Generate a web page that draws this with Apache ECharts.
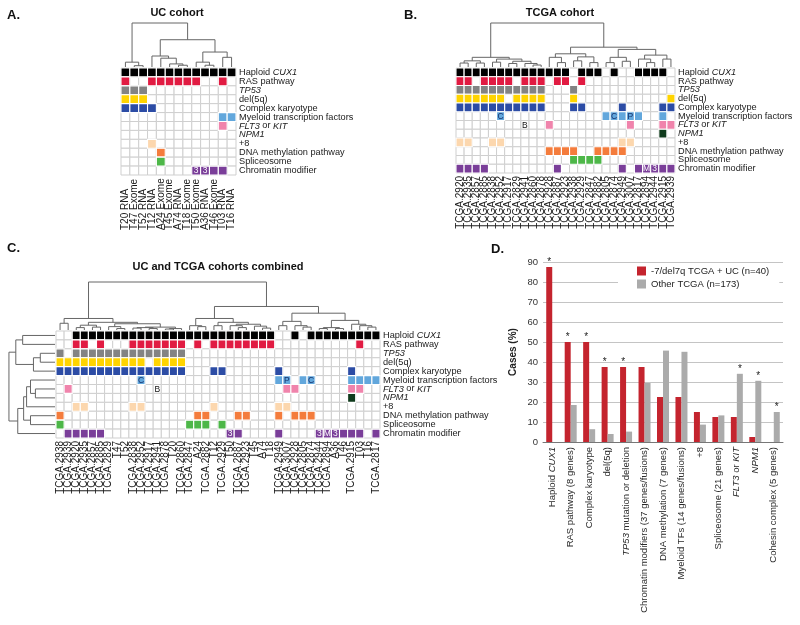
<!DOCTYPE html>
<html><head><meta charset="utf-8">
<script src="https://cdn.jsdelivr.net/npm/echarts@6/dist/echarts.min.js"></script>
<style>html,body{margin:0;padding:0;background:#fff}#c{width:800px;height:625px}</style>
</head><body><div id="c"></div>
<script>
// ---------------- DATA ----------------
const features = ['Haploid CUX1','RAS pathway','TP53','del(5q)','Complex karyotype','Myeloid transcription factors','FLT3 or KIT','NPM1','+8','DNA methylation pathway','Spliceosome','Chromatin modifier'];

// combined (panel C) column order
const combinedSamples = ['TCGA.2938','TCGA.2939','TCGA.2920','TCGA.2935','TCGA.2857','TCGA.2885','TCGA.2829','T47','T52','TCGA.2838',
 'TCGA.2952','TCGA.2917','TCGA.2941','TCGA.2878','T20','TCGA.2860','TCGA.2847','A24','TCGA.2882','T12',
 'TCGA.2929','T50','TCGA.2887','TCGA.2923','T45','A74','T18','TCGA.2949','TCGA.3007','TCGA.2928',
 'TCGA.2805','TCGA.2874','TCGA.2944','TCGA.2894','A36','T46','TCGA.2915','T03','T16','TCGA.2817'];

// one 0/1 row per feature, in combinedSamples order
const hapCUX1      = [0,0,1,1,1,1,1,1,1,1, 1,1,1,1,1,1,1,1,1,1, 1,1,1,1,1,1,1,0,0,1, 0,1,1,1,1,1,1,1,1,1];
const rasPathway   = [0,0,1,1,0,1,0,0,0,1, 1,1,1,1,1,1,0,1,0,1, 1,1,1,1,1,1,1,0,0,0, 0,0,0,0,0,0,0,1,0,0];
const tp53         = [1,0,1,1,1,1,1,1,1,1, 1,1,1,1,1,1,0,0,0,0, 0,0,0,0,0,0,0,0,0,0, 0,0,0,0,0,0,0,0,0,0];
const del5q        = [1,1,1,1,1,1,1,1,1,1, 1,0,1,1,1,1,0,0,0,0, 0,0,0,0,0,0,0,0,0,0, 0,0,0,0,0,0,0,0,0,0];
const complexKaryo = [1,1,1,1,1,1,1,1,1,1, 1,1,1,1,1,1,0,0,0,1, 1,0,0,0,0,0,0,1,0,0, 0,0,0,0,0,0,1,0,0,0];
const myeloidTF    = [0,0,0,0,0,0,0,0,0,0, 1,0,0,0,0,0,0,0,0,0, 0,0,0,0,0,0,0,1,1,0, 1,1,0,0,0,0,1,1,1,1];
const flt3Kit      = [0,1,0,0,0,0,0,0,0,0, 0,0,0,0,0,0,0,0,0,0, 0,0,0,0,0,0,0,0,1,1, 0,0,0,0,0,0,1,1,0,0];
const npm1         = [0,0,0,0,0,0,0,0,0,0, 0,0,0,0,0,0,0,0,0,0, 0,0,0,0,0,0,0,0,0,0, 0,0,0,0,0,0,1,0,0,0];
const trisomy8     = [0,0,1,1,0,0,0,0,0,1, 1,0,0,0,0,0,0,0,0,1, 0,0,0,0,0,0,0,1,1,0, 0,0,0,0,0,0,0,0,0,0];
const dnaMeth      = [1,0,0,0,0,0,0,0,0,0, 0,0,0,0,0,0,0,1,1,0, 0,0,1,1,0,0,0,1,0,1, 1,1,0,0,0,0,0,0,0,0];
const spliceosome  = [1,0,0,0,0,0,0,0,0,0, 0,0,0,0,0,0,1,1,1,0, 1,0,0,0,0,0,0,0,0,0, 0,0,0,0,0,0,0,0,0,0];
const chromatinMod = [0,1,1,1,1,1,0,0,0,0, 0,0,0,0,0,0,0,0,0,0, 0,1,1,0,0,0,0,1,0,0, 0,0,1,1,1,1,1,1,0,1];
const featureRows = [hapCUX1,rasPathway,tp53,del5q,complexKaryo,myeloidTF,flt3Kit,npm1,trisomy8,dnaMeth,spliceosome,chromatinMod];

// letters written in cells: [sample, feature row, text]
const cellNotes = [['TCGA.2952',5,'C'],['TCGA.2874',5,'C'],['TCGA.3007',5,'P'],['TCGA.2941',6,'B'],
 ['T50',11,'3'],['A36',11,'3'],['TCGA.2944',11,'3'],['TCGA.2894',11,'M']];

const ucOrder = ['T20','T47','T52','T12','A24','T45','A74','T18','T50','A36','T46','T03','T16'];
const ucPlatform = ['RNA','Exome','RNA','RNA','Exome','Exome','RNA','Exome','Exome','RNA','Exome','RNA','RNA'];
const tcgaOrder = ['TCGA.2920','TCGA.2935','TCGA.2857','TCGA.2885','TCGA.2838','TCGA.2952','TCGA.2917','TCGA.2829','TCGA.2941',
 'TCGA.2860','TCGA.2878','TCGA.2928','TCGA.2887','TCGA.2923','TCGA.2938','TCGA.2929','TCGA.2847','TCGA.2882',
 'TCGA.2805','TCGA.2874','TCGA.2949','TCGA.3007','TCGA.2817','TCGA.2894','TCGA.2944','TCGA.2915','TCGA.2939'];

// dendrogram merges: [left, right, height]; strings are leaves, numbers refer to earlier merges
const ucTree = [['T47','T52',0.3],['T20',0,1.1],['A74','T18',0.4],['T45',2,0.7],['A24',3,2.0],['T12',4,2.5],
 ['A36','T46',0.4],['T50',6,1.1],['T03','T16',2.2],[7,8,3.4],[5,9,6.2],[1,10,10]];
const tcgaTree = [['TCGA.2920','TCGA.2935',0.9],['TCGA.2857','TCGA.2885',0.9],[0,1,1.4],['TCGA.2838','TCGA.2952',1.1],
 ['TCGA.2917','TCGA.2829',0.8],['TCGA.2860','TCGA.2878',0.45],['TCGA.2941',5,0.8],[4,6,1.3],[3,7,1.8],[2,8,2.2],
 ['TCGA.2887','TCGA.2923',1.0],['TCGA.2928',10,2.2],['TCGA.2938','TCGA.2929',1.4],['TCGA.2847','TCGA.2882',1.0],
 [12,13,2.3],[11,14,3.0],['TCGA.2805','TCGA.2874',1.0],['TCGA.2949','TCGA.3007',1.3],[16,17,2.2],
 ['TCGA.2894','TCGA.2944',1.0],['TCGA.2817',19,1.8],['TCGA.2915','TCGA.2939',1.8],[20,21,2.7],[18,22,4.0],[15,23,4.5],[9,24,10]];
const combinedTree = [['TCGA.2920','TCGA.2935',0.5],['TCGA.2857','TCGA.2885',0.6],[0,1,1.0],['T47','T52',0.3],
 ['TCGA.2829',3,0.7],['TCGA.2838','TCGA.2952',0.4],['TCGA.2917','TCGA.2941',0.3],[5,6,0.5],['TCGA.2878','T20',0.2],
 [8,'TCGA.2860',0.3],[7,9,0.6],[4,10,1.3],[2,11,1.6],['TCGA.2938','TCGA.2939',1.4],[13,12,2.4],
 ['A24','TCGA.2882',0.7],['TCGA.2847',15,0.9],['T12','TCGA.2929',0.9],['TCGA.2887','TCGA.2923',0.5],['T50',18,0.9],
 ['A74','T18',0.4],['T45',20,0.8],[19,21,1.2],[17,22,1.6],[16,23,2.4],['TCGA.2949','TCGA.3007',0.9],
 ['TCGA.2805','TCGA.2874',0.6],['TCGA.2928',26,0.9],[25,27,1.8],['TCGA.2944','TCGA.2894',0.3],['A36','T46',0.3],
 [29,30,0.5],['T16','TCGA.2817',0.6],['T03',32,0.9],['TCGA.2915',33,1.2],[31,34,2.0],[28,35,3.5],[24,36,4.9],[14,37,10]];
const featureTree = [['TP53','del(5q)',15],[0,'Complex karyotype',22],['Haploid CUX1','RAS pathway',33],[2,1,40],
 ['FLT3 or KIT','NPM1',20],['Myeloid transcription factors',4,25],[5,'+8',29],['DNA methylation pathway','Spliceosome',25],
 [6,7,32],[8,'Chromatin modifier',38],[3,9,47]];

// panel D
const barCats = ['Haploid CUX1','RAS pathway (8 genes)','Complex karyotype','del(5q)','TP53 mutation or deletion',
 'Chromatin modifiers (37 genes/fusions)','DNA methylation (7 genes)','Myeloid TFs (14 genes/fusions)','+8',
 'Spliceosome (21 genes)','FLT3 or KIT','NPM1','Cohesin complex (5 genes)'];
const del7Values  = [87.5,50,50,37.5,37.5,37.5,22.5,22.5,15,12.5,12.5,2.5,0];
const otherValues = [0,18.5,6.4,4.0,5.2,29.5,45.7,45.1,8.7,13.3,34.1,30.6,15.0];
const del7Stars   = [1,1,1,1,1,0,0,0,0,0,0,0,0];
const otherStars  = [0,0,0,0,0,0,0,0,0,0,1,1,1];
const seriesNames = ['-7/del7q TCGA + UC (n=40)','Other TCGA (n=173)'];
const yTicks = {min:0, max:90, interval:10};

// ---------------- STYLE ----------------
const FONT = "'Liberation Sans', Arial, Helvetica, sans-serif";
const featureColors = ['#000000','#E11B42','#838383','#FFD400','#2C4CA5','#62A7DC','#F084AC','#0F3A1C','#FCD7AE','#F47C3C','#4DB748','#7A3E99'];
const TXT = '#1a1a1a';
const italicRe = /\b(CUX1|TP53|FLT3|KIT|NPM1)\b/g;
const ital = s => s.replace(italicRe, '{i|$1}');

const sampleIdx = {}; combinedSamples.forEach((s,i)=>sampleIdx[s]=i);

function cells(order){ const out=[]; order.forEach((s,ci)=>featureRows.forEach((row,ri)=>out.push([ci,ri,row[sampleIdx[s]]]))); return out; }
function notes(order){ return cellNotes.filter(n=>order.indexOf(n[0])>=0).map(n=>[order.indexOf(n[0]),n[1],n[2]]); }
function segments(tree, order){
  const pos={}; order.forEach((n,i)=>pos[n]=i);
  const nodes=[], segs=[];
  tree.forEach(([a,b,h])=>{
    const ca = typeof a==='number'?nodes[a]:{x:pos[a],h:0};
    const cb = typeof b==='number'?nodes[b]:{x:pos[b],h:0};
    nodes.push({x:(ca.x+cb.x)/2,h});
    segs.push([ca.x,ca.h,cb.x,cb.h,h]);
  });
  return segs;
}

const grids = [
 {left:121, top:68, width:115, height:107},  //0 A heat
 {left:121, top:23, width:115, height:44},   //1 A dendro
 {left:456, top:68, width:219, height:105},  //2 B heat
 {left:456, top:23, width:219, height:44},   //3 B dendro
 {left:56,  top:331, width:324, height:107}, //4 C heat
 {left:56,  top:282, width:324, height:48},  //5 C top dendro
 {left:6,   top:331, width:49,  height:107}, //6 C row dendro
 {left:543, top:262, width:240, height:180}  //7 D bars
].map(g=>Object.assign({containLabel:false, outerBoundsMode:'none'}, g));

const hiddenAxis = (gi, min, max, inverse)=>({type:'value', gridIndex:gi, min, max, inverse:!!inverse, show:false});
const heatX = (gi, data, rich)=>({type:'category', gridIndex:gi, data, axisLine:{show:false}, axisTick:{show:false}, splitLine:{show:false},
  axisLabel:{interval:0, rotate:90, margin:3, fontSize:10, fontFamily:FONT, color:TXT,
    formatter: rich? (v=>'{a|'+v+'}') : undefined,
    rich: rich? {a:{width:52, align:'left', fontSize:10, fontFamily:FONT, color:TXT}} : undefined}});
const heatY = gi=>({type:'category', gridIndex:gi, data:features, inverse:true, position:'right',
  axisLine:{show:false}, axisTick:{show:false}, splitLine:{show:false},
  axisLabel:{interval:0, margin:3, fontSize:9.2, fontFamily:FONT, color:TXT, formatter:ital,
    rich:{i:{fontStyle:'italic', fontSize:9.2, fontFamily:FONT, color:TXT}}}});

const xAxis = [
  heatX(0, ucOrder.map((s,i)=>s+' '+ucPlatform[i]), true),
  hiddenAxis(1,-0.5,ucOrder.length-0.5),
  heatX(2, tcgaOrder),
  hiddenAxis(3,-0.5,tcgaOrder.length-0.5),
  heatX(4, combinedSamples),
  hiddenAxis(5,-0.5,combinedSamples.length-0.5),
  hiddenAxis(6,0,50,true),
  {type:'category', gridIndex:7, data:barCats, axisLine:{lineStyle:{color:'#777', width:1}}, axisTick:{show:false},
   axisLabel:{interval:0, rotate:90, margin:5, fontSize:9.5, fontFamily:FONT, color:'#2a2a2a', formatter:ital,
     rich:{i:{fontStyle:'italic', fontSize:9.5, fontFamily:FONT, color:'#2a2a2a'}}}}
];
const yAxis = [
  heatY(0), hiddenAxis(1,0,10),
  heatY(2), hiddenAxis(3,0,10),
  heatY(4), hiddenAxis(5,0,10),
  hiddenAxis(6,-0.5,features.length-0.5,true),
  {type:'value', gridIndex:7, min:yTicks.min, max:yTicks.max, interval:yTicks.interval,
   axisLine:{show:false}, axisTick:{show:false},
   splitLine:{lineStyle:{color:'#c4c4c4', width:1}},
   axisLabel:{margin:5, fontSize:9.5, fontFamily:FONT, color:'#333'},
   name:'Cases (%)', nameLocation:'middle', nameGap:25, nameRotate:90,
   nameTextStyle:{fontSize:10, fontWeight:'bold', fontFamily:FONT, color:'#222'}}
];

function heatSeries(ai, order){
  const all = cells(order);
  const filled = all.filter(c=>c[2]===1);
  const nts = notes(order);
  return [
    {type:'custom', xAxisIndex:ai, yAxisIndex:ai, data:all.map(c=>[c[0],c[1]]), silent:true, z:2,
     renderItem:(p,api)=>{const c=api.coord([api.value(0),api.value(1)]); const s=api.size([1,1]);
       return {type:'rect', shape:{x:c[0]-s[0]/2, y:c[1]-s[1]/2, width:s[0], height:s[1]}, style:{fill:'#fff', stroke:'#cfcfcf', lineWidth:1}};}},
    {type:'custom', xAxisIndex:ai, yAxisIndex:ai, data:filled.map(c=>[c[0],c[1]]), silent:true, z:3,
     renderItem:(p,api)=>{const c=api.coord([api.value(0),api.value(1)]); const s=api.size([1,1]);
       return {type:'rect', shape:{x:c[0]-s[0]/2, y:c[1]-s[1]/2, width:s[0], height:s[1]}, style:{fill:featureColors[api.value(1)], stroke:'#fff', lineWidth:1.1}};}},
    {type:'custom', xAxisIndex:ai, yAxisIndex:ai, data:nts.map(n=>[n[0],n[1]]), silent:true, z:4,
     renderItem:(p,api)=>{const c=api.coord([api.value(0),api.value(1)]); const t=nts[p.dataIndex][2];
       const row=api.value(1); const col = row===11?'#ffffff':(row===5?'#15306b':'#111');
       return {type:'text', x:c[0], y:c[1]+0.5, style:{text:t, align:'center', verticalAlign:'middle', fill:col, fontSize:8.5, fontFamily:FONT}};}}
  ];
}
function denSeries(ai, segs, horizontal){
  return {type:'custom', xAxisIndex:ai, yAxisIndex:ai, data:segs, silent:true, z:2,
    renderItem:(p,api)=>{const xl=api.value(0),hl=api.value(1),xr=api.value(2),hr=api.value(3),h=api.value(4);
      const P = horizontal ? (x,y)=>api.coord([y,x]) : (x,y)=>api.coord([x,y]);
      return {type:'polyline', shape:{points:[P(xl,hl),P(xl,h),P(xr,h),P(xr,hr)]}, style:{stroke:'#666', lineWidth:1, fill:null}};}};
}

const starLabel = {show:true, position:'top', distance:0, formatter:'*', fontSize:10, color:'#222', fontFamily:FONT};
const series = [
  ...heatSeries(0, ucOrder), denSeries(1, segments(ucTree, ucOrder)),
  ...heatSeries(2, tcgaOrder), denSeries(3, segments(tcgaTree, tcgaOrder)),
  ...heatSeries(4, combinedSamples), denSeries(5, segments(combinedTree, combinedSamples)),
  denSeries(6, segments(featureTree, features), true),
  {type:'bar', name:seriesNames[0], xAxisIndex:7, yAxisIndex:7, barWidth:6, barGap:'0%', itemStyle:{color:'#C4242E'},
   data:del7Values.map((v,i)=>del7Stars[i]?{value:v,label:starLabel}:v)},
  {type:'bar', name:seriesNames[1], xAxisIndex:7, yAxisIndex:7, barWidth:6, barGap:'0%', itemStyle:{color:'#ABABAB'},
   data:otherValues.map((v,i)=>otherStars[i]?{value:v,label:starLabel}:v)}
];

const tt = (text,left,top,size,align)=>({text, left, top, padding:0, textAlign:align||'left',
  textStyle:{fontSize:size, fontWeight:'bold', fontFamily:FONT, color:'#111'}});

const option = {
  animation:false,
  backgroundColor:'#fff',
  textStyle:{fontFamily:FONT},
  title:[tt('A.',7,9,13), tt('UC cohort',177,7,11,'center'), tt('B.',404,9,13), tt('TCGA cohort',560,7,11,'center'),
         tt('C.',7,242,13), tt('UC and TCGA cohorts combined',218,261,11,'center'), tt('D.',491,243,13)],
  legend:{data:seriesNames, orient:'vertical', left:618, top:263, padding:[3,10,3,19], itemWidth:9, itemHeight:9, itemGap:3,
    backgroundColor:'#fff', icon:'rect', selectedMode:false,
    textStyle:{fontSize:9.5, fontFamily:FONT, color:'#222'}},
  grid:grids, xAxis, yAxis, series
};
const chart = echarts.init(document.getElementById('c'), null, {renderer:'canvas', width:800, height:625});
chart.setOption(option);
</script></body></html>
